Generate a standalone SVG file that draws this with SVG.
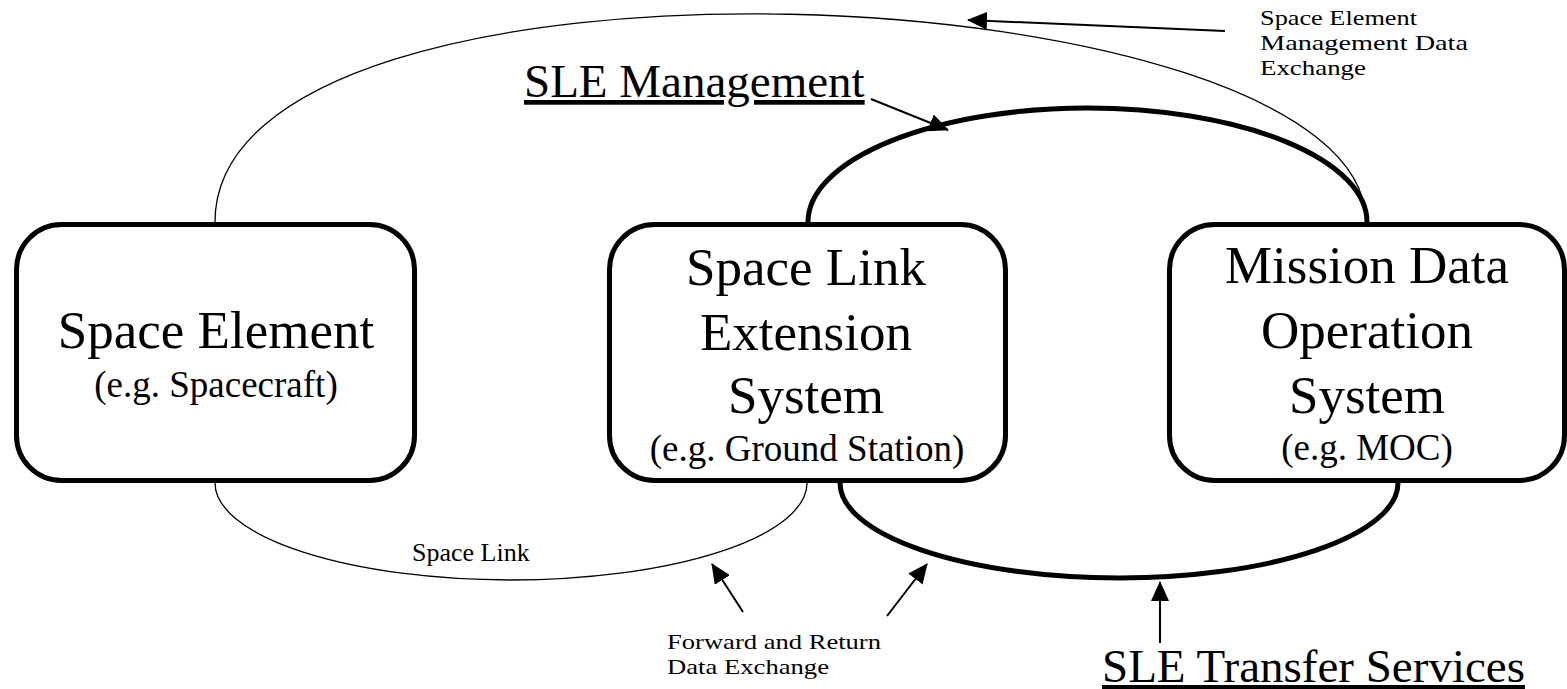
<svg xmlns="http://www.w3.org/2000/svg" width="1567" height="689" viewBox="0 0 1567 689">
<style>
text{font-family:"Liberation Serif","Times New Roman",serif;fill:#000}
.big{font-size:53px;text-anchor:middle}
.sub{font-size:37px;text-anchor:middle}
.sm{font-size:26px}
.ml{font-size:22px}
.hd{font-size:47px;text-decoration:underline}
.box{fill:#fff;stroke:#000;stroke-width:5}
.thin{fill:none;stroke:#000;stroke-width:1.3}
.thick{fill:none;stroke:#000;stroke-width:5}
.arr{fill:none;stroke:#000;stroke-width:2;marker-end:url(#ah)}
</style>
<defs>
<marker id="ah" viewBox="0 0 20 18" refX="19" refY="9" markerWidth="20" markerHeight="18" orient="auto" markerUnits="userSpaceOnUse"><path d="M0,0 L20,9 L0,18 Z" fill="#000"/></marker>
</defs>
<g id="connectors">
<path class="thin" d="M215,222 C215,-80 1366,-30 1366,222"/>
<path class="thick" d="M808,222 A279.5,114 0 0 1 1367,222"/>
<path class="thin" d="M215,483 A296,97 0 0 0 807,483"/>
<path class="thick" d="M840,483 A279,95 0 0 0 1398,483"/>
<line class="arr" x1="1225" y1="31" x2="968" y2="20"/>
<line class="arr" x1="871" y1="99" x2="948" y2="130"/>
<line class="arr" x1="743" y1="612" x2="712" y2="564"/>
<line class="arr" x1="887" y1="616" x2="927" y2="564"/>
<line class="arr" x1="1160" y1="643" x2="1160" y2="582"/>
</g>
<g id="space-element">
<rect class="box" x="16.5" y="224.5" width="398" height="256" rx="45"/>
<text class="big" x="216" y="348">Space Element</text>
<text class="sub" x="216" y="397">(e.g. Spacecraft)</text>
</g>
<g id="sle-system">
<rect class="box" x="609.5" y="224.5" width="396" height="256" rx="45"/>
<text class="big" x="806" y="285">Space Link</text>
<text class="big" x="806" y="350">Extension</text>
<text class="big" x="806" y="413">System</text>
<text class="sub" x="807" y="461">(e.g. Ground Station)</text>
</g>
<g id="mdos">
<rect class="box" x="1169.5" y="224.5" width="395" height="256" rx="45"/>
<text class="big" x="1367" y="283">Mission Data</text>
<text class="big" x="1367" y="348">Operation</text>
<text class="big" x="1367" y="413">System</text>
<text class="sub" x="1367" y="460">(e.g. MOC)</text>
</g>
<g id="labels">
<text class="hd" x="524" y="97">SLE Management</text>
<text class="hd" x="1102" y="682">SLE Transfer Services</text>
<text class="ml" x="1260" y="25" textLength="157" lengthAdjust="spacingAndGlyphs">Space Element</text>
<text class="ml" x="1260" y="50" textLength="208" lengthAdjust="spacingAndGlyphs">Management Data</text>
<text class="ml" x="1260" y="75" textLength="106" lengthAdjust="spacingAndGlyphs">Exchange</text>
<text class="sm" x="412" y="561">Space Link</text>
<text class="ml" x="667" y="649" textLength="214" lengthAdjust="spacingAndGlyphs">Forward and Return</text>
<text class="ml" x="667" y="674" textLength="162" lengthAdjust="spacingAndGlyphs">Data Exchange</text>
</g>
</svg>
